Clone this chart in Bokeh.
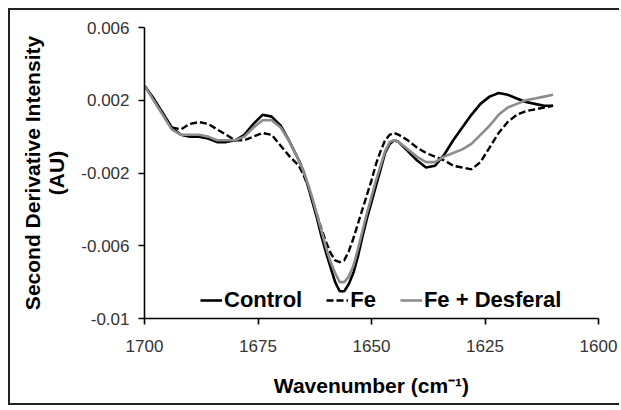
from bokeh.plotting import figure
from bokeh.models import Range1d, FixedTicker, Legend, LegendItem
from bokeh.embed import file_html
from bokeh.resources import INLINE

# ---- data ----
wavenumber = [1700, 1698, 1696, 1694, 1692, 1690, 1688, 1686, 1684, 1682, 1680,
              1678, 1676, 1674, 1672, 1670, 1668, 1666,
              1665, 1664, 1663, 1662, 1661, 1660, 1659, 1658, 1657, 1656, 1655,
              1654, 1653, 1652, 1651, 1650, 1649, 1648, 1647, 1646, 1645, 1644,
              1642, 1640, 1638, 1636, 1634, 1632, 1630, 1628, 1626, 1624, 1622,
              1620, 1618, 1616, 1614, 1612, 1610]

control = [0.0028, 0.0021, 0.0013, 0.0005, 0.0001, 0.0000, 0.0000, -0.0001, -0.0003, -0.0003, -0.0002,
           0.0001, 0.0007, 0.0012, 0.0011, 0.0006, -0.0003, -0.0013,
           -0.0019, -0.0027, -0.0036, -0.0045, -0.0055, -0.0064, -0.0072, -0.0080, -0.0085, -0.0085, -0.0081,
           -0.0075, -0.0066, -0.0055, -0.0045, -0.0036, -0.0027, -0.0018, -0.0009, -0.0004, -0.0002, -0.0003,
           -0.0008, -0.0013, -0.0017, -0.0016, -0.0010, -0.0002, 0.0005, 0.0012, 0.0018, 0.0022, 0.0024,
           0.0023, 0.0021, 0.0019, 0.0018, 0.0017, 0.0017]

fe = [0.0028, 0.0021, 0.0013, 0.0005, 0.0004, 0.0007, 0.0008, 0.0007, 0.0004, 0.0001, -0.0002,
      -0.0002, 0.0000, 0.0002, 0.0001, -0.0005, -0.0011, -0.0016,
      -0.0021, -0.0027, -0.0035, -0.0043, -0.0051, -0.0058, -0.0064, -0.0068, -0.0069, -0.0068, -0.0063,
      -0.0056, -0.0048, -0.0040, -0.0032, -0.0024, -0.0015, -0.0008, -0.0002, 0.0001, 0.0002, 0.0001,
      -0.0002, -0.0006, -0.0009, -0.0011, -0.0013, -0.0016, -0.0017, -0.0018, -0.0014, -0.0006, 0.0002,
      0.0008, 0.0012, 0.0014, 0.0015, 0.0016, 0.0017]

fe_desferal = [0.0028, 0.0020, 0.0012, 0.0004, 0.0001, 0.0001, 0.0001, 0.0000, -0.0002, -0.0002, -0.0002,
               0.0000, 0.0005, 0.0009, 0.0009, 0.0005, -0.0003, -0.0013,
               -0.0019, -0.0026, -0.0034, -0.0043, -0.0052, -0.0061, -0.0069, -0.0075, -0.0080, -0.0080, -0.0077,
               -0.0071, -0.0062, -0.0052, -0.0042, -0.0033, -0.0024, -0.0016, -0.0008, -0.0003, -0.0002, -0.0003,
               -0.0007, -0.0011, -0.0014, -0.0014, -0.0011, -0.0009, -0.0007, -0.0004, 0.0001, 0.0006, 0.0012,
               0.0016, 0.0018, 0.0020, 0.0021, 0.0022, 0.0023]

x_ticks = [1700, 1675, 1650, 1625, 1600]
y_ticks = [-0.01, -0.006, -0.002, 0.002, 0.006]
y_tick_labels = ["-0.01", "-0.006", "-0.002", "0.002", "0.006"]

series_names = ["Control", "Fe", "Fe + Desferal"]

FONT = "Liberation Sans"

p = figure(width=611, height=397, output_backend="svg", toolbar_location=None,
           x_range=Range1d(1700, 1600), y_range=Range1d(-0.01, 0.006),
           min_border_left=134, min_border_right=23, min_border_top=17, min_border_bottom=89)
p.styles = {"margin-left": "8px", "margin-top": "8px",
            "border-left": "2px solid #222222", "border-top": "2px solid #222222",
            "border-bottom": "2px solid #222222"}

p.outline_line_color = None
p.xgrid.visible = False
p.ygrid.visible = False
p.background_fill_color = "white"
p.border_fill_color = "white"

r_ctrl = p.line(wavenumber, control, line_color="black", line_width=2.6)
r_fe = p.line(wavenumber, fe, line_color="black", line_width=2.4, line_dash="7 3")
r_fd = p.line(wavenumber, fe_desferal, line_color="#8c8c8c", line_width=2.6)

legend = Legend(items=[LegendItem(label=series_names[0], renderers=[r_ctrl]),
                       LegendItem(label=series_names[1], renderers=[r_fe]),
                       LegendItem(label=series_names[2], renderers=[r_fd])],
                orientation="horizontal", location=(56, 5))
legend.background_fill_alpha = 0
legend.border_line_color = None
legend.padding = 0
legend.margin = 0
legend.spacing = 24
legend.glyph_width = 22
legend.glyph_height = 20
legend.label_standoff = 2
legend.label_text_font = FONT
legend.label_text_font_style = "bold"
legend.label_text_font_size = "22px"
legend.label_text_color = "black"
p.add_layout(legend, "center")

for ax in (p.xaxis[0], p.yaxis[0]):
    ax.axis_line_color = "black"
    ax.axis_line_width = 1.6
    ax.major_tick_line_color = "black"
    ax.major_tick_line_width = 1.6
    ax.major_tick_out = 6
    ax.major_tick_in = 0
    ax.minor_tick_line_color = None
    ax.major_label_text_font = FONT
    ax.major_label_text_font_size = "17px"
    ax.major_label_text_color = "#333333"
    ax.axis_label_text_font = FONT
    ax.axis_label_text_font_style = "bold"
    ax.axis_label_text_font_size = "21px"
    ax.axis_label_text_color = "black"

p.xaxis.ticker = FixedTicker(ticks=x_ticks)
p.yaxis.ticker = FixedTicker(ticks=y_ticks)
p.yaxis.major_label_overrides = {t: s for t, s in zip(y_ticks, y_tick_labels)}
p.xaxis.major_label_standoff = 15
p.yaxis.major_label_standoff = 9
p.xaxis.axis_label = "Wavenumber (cm\u207b\u00b9)"
p.yaxis.axis_label = "Second Derivative Intensity\n(AU)"
p.yaxis.axis_label_text_line_height = 1.05
p.xaxis.axis_label_standoff = 19
p.yaxis.axis_label_standoff = 10

open("out.html", "w").write(file_html(p, INLINE))
